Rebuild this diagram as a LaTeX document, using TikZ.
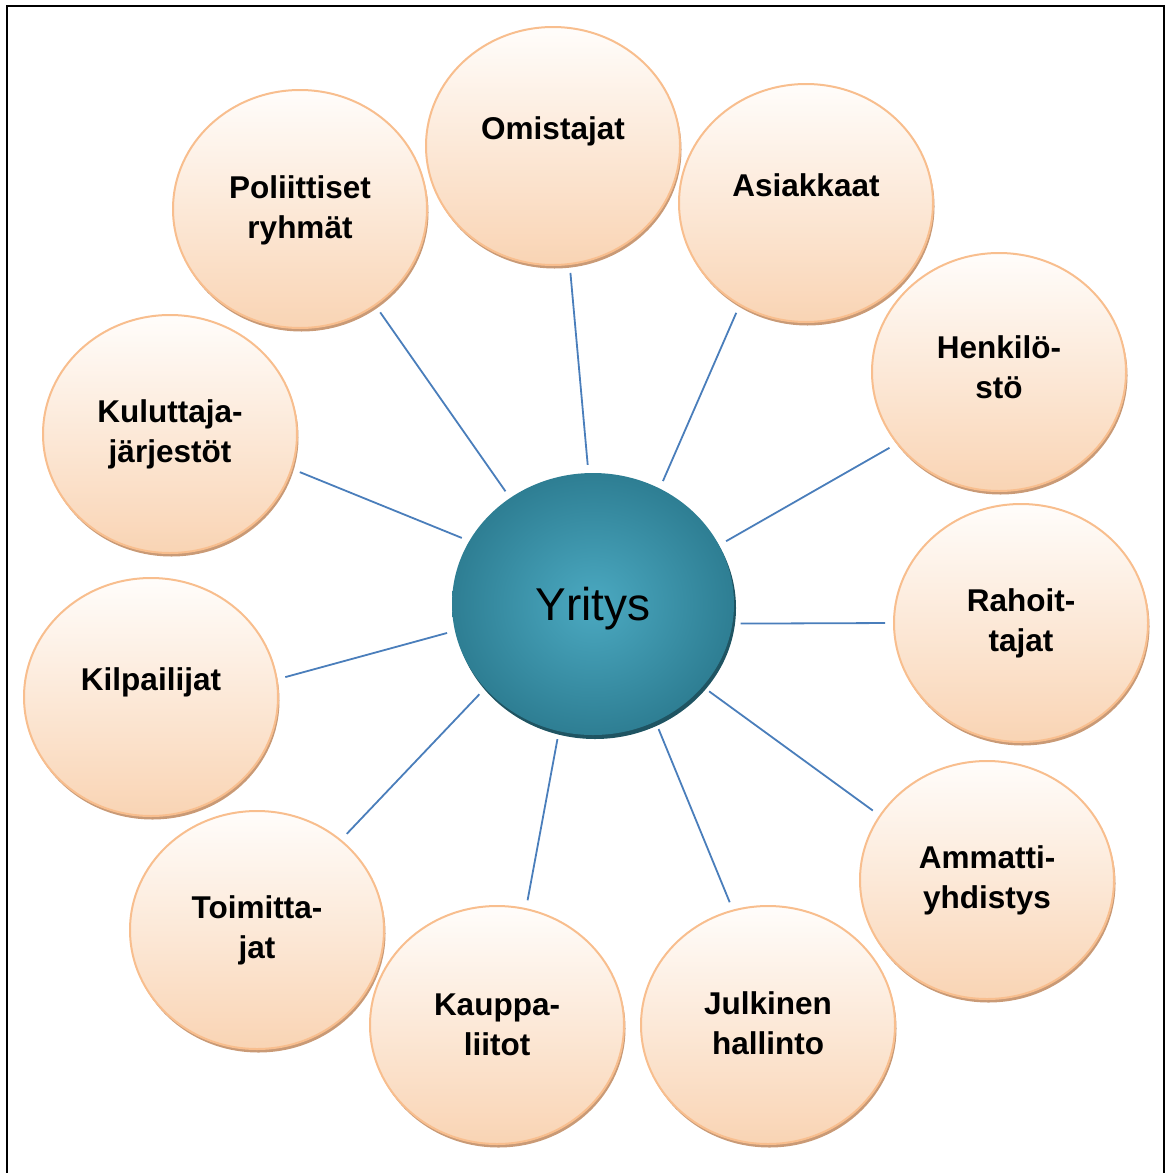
\documentclass[tikz,border=0pt]{standalone}
\usepackage{fontspec}
\setmainfont{Liberation Sans}
\usetikzlibrary{shapes.geometric,shadows}

\definecolor{rimorange}{HTML}{F8BE8E}
\definecolor{peachtop}{HTML}{FFFDFB}
\definecolor{peachbottom}{HTML}{F9D4B4}
\definecolor{peachshadow}{HTML}{C99A76}
\definecolor{tealinner}{HTML}{4BA9C1}
\definecolor{tealouter}{HTML}{2E7E93}
\definecolor{tealshadow}{HTML}{1F5462}
\definecolor{linkblue}{HTML}{4A7EBB}

\tikzset{
  bubble/.style={ellipse, draw=rimorange, line width=2pt,
    minimum width=254pt, minimum height=238pt, inner sep=0pt,
    top color=peachtop, bottom color=peachbottom,
    drop shadow={shadow xshift=1.5pt, shadow yshift=-3.5pt,
      fill=peachshadow, opacity=1}},
  hub/.style={ellipse, minimum width=282pt, minimum height=262pt, inner sep=0pt,
    shading=radial, inner color=tealinner, outer color=tealouter,
    drop shadow={shadow xshift=2pt, shadow yshift=-4pt,
      fill=tealshadow, opacity=1}},
  % anchor=base sits on the baseline of the last line
  bubbletext/.style={anchor=base, align=center, inner sep=0pt,
    font=\fontsize{31.5}{40}\selectfont\bfseries},
  hubtext/.style={anchor=base, inner sep=0pt, font=\fontsize{46}{52}\selectfont},
  link/.style={draw=linkblue, line width=1.8pt, shorten <=8pt, shorten >=8pt},
  frameline/.style={draw=black, line width=2.5pt}
}

\begin{document}
\begin{tikzpicture}[x=1pt, y=-1pt]
\useasboundingbox (0,0) rectangle (1169,1173);

% open frame (no bottom edge)
\draw[frameline] (7,1175) -- (7,6) -- (1164,6) -- (1164,1175);

% central company node
\node[hub] (yritys) at (593,604) {};
\node[hubtext] (yritysT) at (593,620) {Yritys};

% stakeholder bubbles
\node[bubble] (omistajat)  at (553,146)  {};
\node[bubble] (asiakkaat)  at (806,203)  {};
\node[bubble] (henkilosto) at (999,372)  {};
\node[bubble] (rahoittajat) at (1021,623) {};
\node[bubble] (ammatti)    at (987,880)  {};
\node[bubble] (julkinen)   at (768,1025) {};
\node[bubble] (kauppa)     at (497,1025) {};
\node[bubble] (toimittajat) at (257,930) {};
\node[bubble] (kilpailijat) at (151,697) {};
\node[bubble] (kuluttaja)  at (170,434)  {};
\node[bubble] (poliittiset) at (300,209) {};

% bubble labels
\node[bubbletext] (omistajatT)   at (553,139)  {Omistajat};
\node[bubbletext] (asiakkaatT)   at (806,196)  {Asiakkaat};
\node[bubbletext] (henkilostoT)  at (999,398)  {Henkilö-\\stö};
\node[bubbletext] (rahoittajatT) at (1021,651) {Rahoit-\\tajat};
\node[bubbletext] (ammattiT)     at (987,908)  {Ammatti-\\yhdistys};
\node[bubbletext] (julkinenT)    at (768,1054) {Julkinen\\hallinto};
\node[bubbletext] (kauppaT)      at (497,1055) {Kauppa-\\liitot};
\node[bubbletext] (toimittajatT) at (257,958)  {Toimitta-\\jat};
\node[bubbletext] (kilpailijatT) at (151,690)  {Kilpailijat};
\node[bubbletext] (kuluttajaT)   at (170,462)  {Kuluttaja-\\järjestöt};
\node[bubbletext] (poliittisetT) at (300,238)  {Poliittiset\\ryhmät};

% connectors from the company to each stakeholder
\draw[link] (yritys.92)  -- (omistajat.278);
\draw[link] (yritys.60)  -- (asiakkaat.237);
\draw[link] (yritys.25)  -- (henkilosto.215);
\draw[link] (yritys.352) -- (rahoittajat.180);
\draw[link] (yritys.323) -- (ammatti.149);
\draw[link] (yritys.298) -- (julkinen.107);
\draw[link] (yritys.255) -- (kauppa.76);
\draw[link] (yritys.218) -- (toimittajat.47);
\draw[link] (yritys.191) -- (kilpailijat.8);
\draw[link] (yritys.153) -- (kuluttaja.344);
\draw[link] (yritys.128) -- (poliittiset.308);
\end{tikzpicture}
\end{document}
